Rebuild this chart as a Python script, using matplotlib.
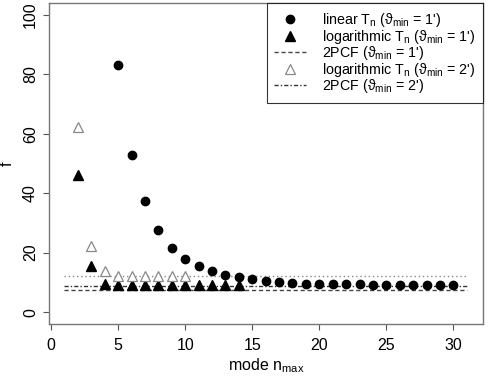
import matplotlib
matplotlib.use("Agg")
import matplotlib.pyplot as plt
import numpy as np

plt.rcParams['font.family'] = ['Liberation Sans', 'DejaVu Sans']
plt.rcParams['mathtext.fontset'] = 'custom'
plt.rcParams['mathtext.rm'] = 'Liberation Sans'
plt.rcParams['mathtext.it'] = 'Liberation Sans'
plt.rcParams['mathtext.fallback'] = 'stixsans'

# data
n_lin = list(range(5, 31))
f_lin = [83.2, 53.0, 37.4, 27.6, 21.6, 17.9, 15.4, 13.7, 12.6, 11.8, 11.1, 10.5,
         10.1, 9.8, 9.6, 9.5, 9.4, 9.3, 9.3, 9.2, 9.2, 9.2, 9.1, 9.1, 9.1, 9.1]
n_log1 = list(range(2, 15))
f_log1 = [46.1, 15.6, 9.4, 9.2, 9.2, 9.2, 9.2, 9.2, 9.2, 9.2, 9.2, 9.2, 9.2]
n_log2 = list(range(2, 11))
f_log2 = [62.3, 22.4, 13.7, 12.3, 12.3, 12.3, 12.3, 12.3, 12.3]
line_x = [1, 31]
f_2pcf1 = 7.4
f_2pcf2 = 8.7
f_dotted = 12.1
xticks = [0, 5, 10, 15, 20, 25, 30]
yticks = [0, 20, 40, 60, 80, 100]

fig = plt.figure(figsize=(4.91, 3.77), dpi=100)
ax = fig.add_axes([49/491, 1-323.7/377, (483-49)/491, (323.7-3.3)/377])

ax.plot(line_x, [f_dotted]*2, ls=(0, (1, 2)), color='#888888', lw=1)
l1, = ax.plot(line_x, [f_2pcf1]*2, ls=(0, (3, 2)), color='#444444', lw=1,
              label=r"2PCF ($\vartheta_{\mathregular{min}}$ = 1')")
l2, = ax.plot(line_x, [f_2pcf2]*2, ls=(0, (3, 1.5, 1, 1.5)), color='#333333', lw=1,
              label=r"2PCF ($\vartheta_{\mathregular{min}}$ = 2')")
p1, = ax.plot(n_lin, f_lin, 'o', color='black', ms=6, ls='none',
              label=r"linear T$_{\mathregular{n}}$ ($\vartheta_{\mathregular{min}}$ = 1')")
p2, = ax.plot(n_log1, f_log1, '^', color='black', ms=7, ls='none',
              label=r"logarithmic T$_{\mathregular{n}}$ ($\vartheta_{\mathregular{min}}$ = 1')")
p3, = ax.plot(n_log2, f_log2, '^', mfc='white', mec='#888888', mew=0.9, ms=7.5, ls='none',
              label=r"logarithmic T$_{\mathregular{n}}$ ($\vartheta_{\mathregular{min}}$ = 2')")

ax.set_xlim(-0.15, 32.2)
ax.set_ylim(-3.9, 103.9)
ax.set_xticks(xticks)
ax.set_yticks(yticks)
ax.set_yticklabels([str(t) for t in yticks], rotation=90, va='center')
ax.tick_params(axis='both', colors='#555555', labelcolor='black', length=4, width=0.8,
               labelsize=11.5)
ax.tick_params(axis='x', pad=6)
ax.tick_params(axis='y', pad=4)
for s in ax.spines.values():
    s.set_color('#777777')
    s.set_linewidth(1)

ax.set_xlabel(r"mode n$_{\mathregular{max}}$", fontsize=11.5, labelpad=3)
ax.set_ylabel("f", fontsize=11.5)
ax.yaxis.set_label_coords(-0.08, 0.5)

leg = ax.legend(handles=[p1, p2, l1, p3, l2], loc='upper right',
                bbox_to_anchor=(1, 1), borderaxespad=0, fontsize=10.3,
                frameon=True, fancybox=False, handlelength=2.2, handletextpad=1.1,
                labelspacing=-0.1, borderpad=0.55)
leg.get_frame().set_edgecolor('black')
leg.get_frame().set_linewidth(0.8)

fig.savefig("out.png", dpi=100)
